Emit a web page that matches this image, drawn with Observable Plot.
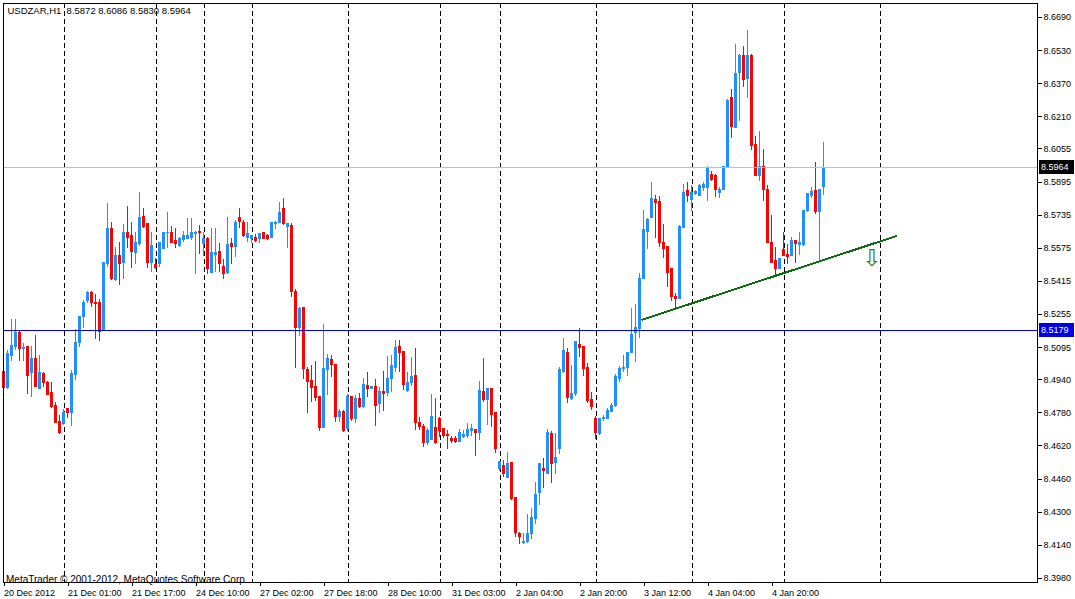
<!DOCTYPE html>
<html><head><meta charset="utf-8">
<script src="https://cdn.jsdelivr.net/npm/d3@7"></script>
<script src="https://cdn.jsdelivr.net/npm/@observablehq/plot@0.6"></script>
<style>
html,body{margin:0;padding:0;background:#fff;overflow:hidden}
#chart svg{display:block}
</style></head><body><div id="chart"></div>
<script>
const symbol = "USDZAR,H1";
const credit = "MetaTrader \u00a9 2001-2012, MetaQuotes Software Corp.";

const open = [8.4975,8.4902,8.5057,8.5096,8.5168,8.5087,8.5096,8.4971,8.5038,8.4897,
8.4966,8.4922,8.4874,8.4811,8.4738,8.4724,8.4797,8.4781,8.4961,8.5116,
8.5241,8.5318,8.5361,8.5309,8.5309,8.5178,8.5497,8.5670,8.5420,8.5540,
8.5506,8.5651,8.5632,8.5554,8.5594,8.5724,8.5690,8.5506,8.5492,8.5497,
8.5574,8.5647,8.5651,8.5608,8.5584,8.5613,8.5622,8.5627,8.5642,8.5656,
8.5594,8.5622,8.5458,8.5545,8.5559,8.5487,8.5454,8.5594,8.5579,8.5719,
8.5695,8.5627,8.5618,8.5627,8.5618,8.5647,8.5632,8.5627,8.5690,8.5695,
8.5763,8.5680,8.5685,8.5366,8.5192,8.5289,8.4985,8.4936,8.4907,8.4859,
8.4709,8.4985,8.5033,8.5009,8.4762,8.4786,8.4700,8.4859,8.4752,8.4845,
8.4806,8.4912,8.4897,8.4907,8.4821,8.4883,8.4874,8.4946,8.4999,8.5096,
8.5072,8.4888,8.4922,8.4956,8.4733,8.4714,8.4632,8.4651,8.4709,8.4748,
8.4704,8.4671,8.4656,8.4656,8.4641,8.4661,8.4666,8.4690,8.4695,8.4681,
8.4883,8.4840,8.4893,8.4777,8.4507,8.4521,8.4467,8.4536,8.4367,8.4197,
8.4149,8.4154,8.4193,8.4265,8.4391,8.4511,8.4487,8.4676,8.4540,8.4607,
8.4975,8.5067,8.4849,8.4869,8.5106,8.5096,8.4999,8.4840,8.4752,8.4676,
8.4748,8.4748,8.4786,8.4811,8.4946,8.4990,8.4999,8.5067,8.5168,8.5187,
8.5429,8.5656,8.5719,8.5806,8.5801,8.5603,8.5579,8.5473,8.5342,8.5328,
8.5675,8.5854,8.5806,8.5835,8.5830,8.5868,8.5868,8.5927,8.5922,8.5844,
8.5859,8.5961,8.6299,8.6158,8.6420,8.6502,8.6391,8.6502,8.6072,8.5922,
8.5966,8.5859,8.5603,8.5516,8.5477,8.5569,8.5545,8.5540,8.5608,8.5589,
8.5589,8.5753,8.5830,8.5854,8.5748,8.5872];

const high = [8.5009,8.5081,8.5232,8.5232,8.5178,8.5116,8.5101,8.5101,8.5154,8.5057,
8.4975,8.4931,8.4926,8.4830,8.4767,8.4797,8.4797,8.4985,8.5183,8.5246,
8.5323,8.5366,8.5366,8.5352,8.5328,8.5506,8.5792,8.5699,8.5579,8.5603,
8.5690,8.5777,8.5699,8.5651,8.5844,8.5767,8.5690,8.5651,8.5525,8.5599,
8.5647,8.5748,8.5680,8.5670,8.5627,8.5656,8.5719,8.5719,8.5656,8.5685,
8.5651,8.5627,8.5670,8.5670,8.5599,8.5521,8.5724,8.5622,8.5709,8.5767,
8.5709,8.5699,8.5637,8.5642,8.5647,8.5651,8.5642,8.5699,8.5704,8.5796,
8.5815,8.5695,8.5695,8.5376,8.5289,8.5289,8.4999,8.5009,8.5028,8.4859,
8.5207,8.5062,8.5057,8.5009,8.4797,8.4791,8.4869,8.4859,8.4864,8.4874,
8.4946,8.4975,8.4907,8.4942,8.4902,8.4980,8.5052,8.5057,8.5130,8.5130,
8.5072,8.4975,8.5048,8.5091,8.4757,8.4724,8.4704,8.4869,8.4849,8.4757,
8.4704,8.4695,8.4666,8.4666,8.4700,8.4695,8.4729,8.4724,8.4700,8.4931,
8.5043,8.4897,8.4897,8.4777,8.4545,8.4550,8.4588,8.4540,8.4367,8.4202,
8.4197,8.4289,8.4318,8.4443,8.4536,8.4560,8.4700,8.4690,8.4681,8.4999,
8.5140,8.5091,8.5009,8.5120,8.5187,8.5096,8.5019,8.4878,8.4762,8.4752,
8.4767,8.4801,8.4825,8.4966,8.5004,8.5057,8.5067,8.5284,8.5304,8.5454,
8.5758,8.5719,8.5893,8.5830,8.5825,8.5690,8.5579,8.5473,8.5357,8.5685,
8.5883,8.5893,8.5878,8.5854,8.5883,8.5893,8.5970,8.5946,8.5932,8.5868,
8.5970,8.6294,8.6343,8.6560,8.6512,8.6550,8.6627,8.6512,8.6115,8.6139,
8.6052,8.5878,8.5734,8.5579,8.5525,8.5651,8.5594,8.5627,8.5613,8.5651,
8.5753,8.5835,8.5868,8.5989,8.5859,8.6086];

const low = [8.4830,8.4893,8.5028,8.5081,8.5028,8.5028,8.4869,8.4854,8.4907,8.4897,
8.4902,8.4864,8.4801,8.4729,8.4676,8.4719,8.4752,8.4714,8.4936,8.5096,
8.5187,8.5309,8.5289,8.5135,8.5125,8.5173,8.5482,8.5420,8.5415,8.5396,
8.5425,8.5574,8.5477,8.5497,8.5584,8.5670,8.5477,8.5458,8.5473,8.5482,
8.5574,8.5574,8.5599,8.5574,8.5579,8.5603,8.5622,8.5613,8.5449,8.5545,
8.5535,8.5449,8.5458,8.5458,8.5458,8.5425,8.5449,8.5497,8.5530,8.5670,
8.5627,8.5603,8.5599,8.5603,8.5599,8.5618,8.5613,8.5627,8.5666,8.5695,
8.5685,8.5574,8.5337,8.4994,8.5149,8.4942,8.4777,8.4830,8.4835,8.4690,
8.4709,8.4864,8.4951,8.4733,8.4733,8.4685,8.4690,8.4738,8.4729,8.4801,
8.4801,8.4854,8.4893,8.4714,8.4777,8.4786,8.4859,8.4878,8.4975,8.4975,
8.4888,8.4878,8.4907,8.4695,8.4695,8.4612,8.4622,8.4646,8.4627,8.4661,
8.4656,8.4603,8.4632,8.4632,8.4637,8.4656,8.4656,8.4666,8.4569,8.4646,
8.4830,8.4719,8.4709,8.4584,8.4496,8.4467,8.4467,8.4357,8.4178,8.4144,
8.4144,8.4149,8.4169,8.4241,8.4333,8.4414,8.4487,8.4438,8.4482,8.4579,
8.4971,8.4825,8.4840,8.4859,8.5048,8.4956,8.4825,8.4791,8.4651,8.4671,
8.4738,8.4748,8.4781,8.4806,8.4926,8.4975,8.4956,8.5067,8.5023,8.5139,
8.5429,8.5569,8.5719,8.5622,8.5579,8.5525,8.5386,8.5318,8.5284,8.5328,
8.5670,8.5796,8.5753,8.5830,8.5825,8.5849,8.5801,8.5898,8.5820,8.5815,
8.5859,8.5961,8.6105,8.6158,8.6187,8.6352,8.6299,8.6048,8.5922,8.5898,
8.5801,8.5603,8.5506,8.5444,8.5473,8.5540,8.5497,8.5540,8.5502,8.5540,
8.5584,8.5748,8.5815,8.5738,8.5516,8.5830];

const close = [8.4902,8.5062,8.5101,8.5168,8.5087,8.5091,8.4956,8.5038,8.4907,8.4971,
8.4926,8.4864,8.4806,8.4729,8.4681,8.4777,8.4781,8.4966,8.5116,8.5241,
8.5313,8.5357,8.5313,8.5304,8.5173,8.5502,8.5670,8.5425,8.5540,8.5497,
8.5651,8.5627,8.5559,8.5599,8.5719,8.5680,8.5502,8.5584,8.5482,8.5599,
8.5647,8.5651,8.5603,8.5594,8.5622,8.5632,8.5632,8.5651,8.5651,8.5647,
8.5622,8.5473,8.5550,8.5552,8.5497,8.5449,8.5589,8.5579,8.5699,8.5704,
8.5632,8.5642,8.5632,8.5608,8.5642,8.5618,8.5622,8.5695,8.5699,8.5744,
8.5690,8.5690,8.5366,8.5192,8.5284,8.4990,8.4931,8.4902,8.4854,8.4709,
8.4990,8.5038,8.5009,8.4762,8.4786,8.4690,8.4859,8.4748,8.4845,8.4806,
8.4917,8.4893,8.4904,8.4811,8.4883,8.4869,8.4946,8.5004,8.5091,8.5067,
8.4917,8.4926,8.4951,8.4729,8.4714,8.4632,8.4690,8.4762,8.4632,8.4690,
8.4666,8.4666,8.4646,8.4641,8.4685,8.4671,8.4695,8.4700,8.4685,8.4888,
8.4840,8.4893,8.4772,8.4607,8.4545,8.4487,8.4531,8.4362,8.4202,8.4178,
8.4158,8.4193,8.4274,8.4381,8.4531,8.4501,8.4685,8.4531,8.4564,8.4985,
8.5077,8.4854,8.4869,8.5120,8.5091,8.4994,8.4835,8.4806,8.4681,8.4748,
8.4757,8.4791,8.4811,8.4951,8.4990,8.4999,8.5067,8.5154,8.5192,8.5429,
8.5661,8.5714,8.5811,8.5792,8.5603,8.5574,8.5458,8.5342,8.5328,8.5680,
8.5844,8.5830,8.5844,8.5849,8.5878,8.5883,8.5961,8.5903,8.5859,8.5859,
8.5966,8.6289,8.6163,8.6415,8.6502,8.6386,8.6502,8.6067,8.5922,8.5970,
8.5859,8.5603,8.5506,8.5477,8.5521,8.5540,8.5535,8.5608,8.5594,8.5599,
8.5753,8.5835,8.5849,8.5748,8.5859,8.5964];

const yTicks = [8.6690,8.6530,8.6370,8.6210,8.6055,8.5895,8.5735,8.5575,8.5415,
8.5255,8.5095,8.4940,8.4780,8.4620,8.4460,8.4300,8.4140,8.3980];
const xTickBars = [1,17,33,49,65,81,97,113,129,145,161,177,193];
const xTickLabels = ["20 Dec 2012","21 Dec 01:00","21 Dec 17:00","24 Dec 10:00","27 Dec 02:00",
"27 Dec 18:00","28 Dec 10:00","31 Dec 03:00","2 Jan 04:00","2 Jan 20:00","3 Jan 12:00",
"4 Jan 04:00","4 Jan 20:00"];
const separators = [16,39,51,63,87,110,125,149,173,196,220];
const levelPrice = 8.5179;
const trendBars = [160.55, 224.05];
const trendPrices = [8.5230, 8.5634];
const arrowBars = [218];
const arrowPrices = [8.5523];

const BLUE = "#1e90ff", RED = "#ff0000";
const fmt = d => d.toFixed(4);
const bars = open.map((o, i) => ({i: i + 1, o, h: high[i], l: low[i], c: close[i], up: close[i] >= o}));
const last = bars[bars.length - 1];
const bid = last.c;
const title = `${symbol}\u00a0\u00a0${fmt(last.o)} ${fmt(last.h)} ${fmt(last.l)} ${fmt(last.c)}`;
const trend = trendBars.map((b, k) => ({b, p: trendPrices[k]}));
const arrows = arrowBars.map((b, k) => ({b, p: arrowPrices[k]}));

function priceTag(price, bg) {
  return (index, scales, values, dims) => {
    const y = Math.round(scales.y(price));
    const x0 = dims.width - dims.marginRight;
    const g = d3.create("svg:g");
    g.append("rect").attr("x", x0 + 2).attr("y", y - 7).attr("width", 35).attr("height", 14).attr("fill", bg);
    g.append("text").attr("x", x0 + 4).attr("y", y).attr("dy", "0.36em")
      .attr("text-anchor", "start").attr("fill", "#fff").attr("font-size", 9).text(fmt(price));
    return g.node();
  };
}

const chart = Plot.plot({
  width: 1075, height: 599,
  marginLeft: 3, marginRight: 38, marginTop: 3, marginBottom: 17,
  style: {fontFamily: "'Liberation Sans', Arial, sans-serif", fontSize: "9px", background: "#fff", color: "#000"},
  x: {domain: [0.875, 259.375]},
  y: {domain: [8.39605, 8.67576]},
  color: {type: "identity"},
  marks: [
    Plot.ruleX(separators, {x: d => d, stroke: "#000", strokeDasharray: "5,3"}),
    Plot.rect(bars, {x1: d => d.i - 0.125, x2: d => d.i + 0.125, y1: "l", y2: "h", fill: d => d.up ? BLUE : RED}),
    Plot.rect(bars, {x1: d => d.i - 0.375, x2: d => d.i + 0.375,
      y1: d => Math.min(d.o, d.c), y2: d => Math.max(d.o, d.c),
      fill: d => d.up ? BLUE : RED, insetTop: -0.5, insetBottom: -0.5}),
    Plot.ruleY([bid], {y: d => d, stroke: "#c0c0c0"}),
    Plot.ruleY([levelPrice], {y: d => d, stroke: "#0000e6"}),
    Plot.line(trend, {x: "b", y: "p", stroke: "#0c6b0c", strokeWidth: 2}),
    Plot.text(arrows, {x: "b", y: "p", text: () => "\u21e9", fontSize: 23, fill: "#1f7f1f", fontFamily: "DejaVu Sans"}),
    Plot.frame({stroke: "#000"}),
    Plot.axisY({anchor: "right", ticks: yTicks, tickFormat: fmt, tickSize: 4, tickPadding: 2, label: null}),
    Plot.axisX({anchor: "bottom", ticks: xTickBars, tickFormat: d => xTickLabels[xTickBars.indexOf(d)],
      tickSize: 4, tickPadding: 3, textAnchor: "start", label: null}),
    Plot.text([title], {frameAnchor: "top-left", text: d => d, dx: 4, dy: 4, fontSize: 9.5}),
    Plot.text([credit], {frameAnchor: "bottom-left", text: d => d, dx: 2.5, dy: 0, fontSize: 10}),
    priceTag(bid, "#000"),
    priceTag(levelPrice, "#0000e6")
  ]
});
chart.setAttribute("shape-rendering", "crispEdges");
document.getElementById("chart").appendChild(chart);
</script></body></html>
